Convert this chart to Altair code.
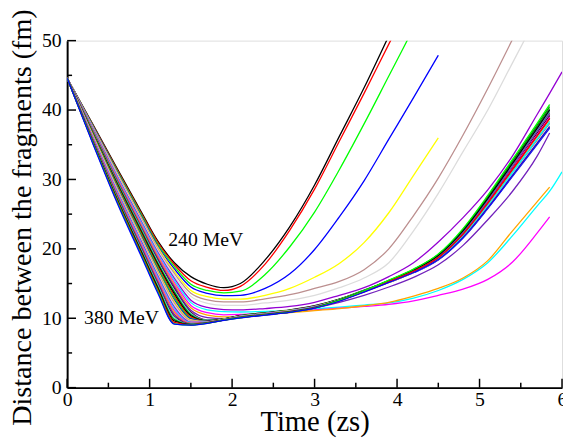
import altair as alt
import pandas as pd

# Time grid (zs) shared by all curves
T = [0, 0.3, 0.6, 0.9, 1.1, 1.3, 1.5, 1.7, 1.9, 2.1, 2.4, 2.7, 3.0, 3.3, 3.6, 3.9,
     4.2, 4.5, 4.8, 5.1, 5.4, 5.7, 5.85, 6.0]
N = None

# Distance between the fragments (fm), one list per curve (240 MeV ... 380 MeV)
C00 = [44.6, 38.2, 31.7, 25.3, 21.1, 18.0, 16.0, 14.9, 14.4, 15.0, 18.4, 23.2, 29.2, 36.2, 43.2, 50.7, N, N, N, N, N, N, N, N]
C01 = [44.6, 38.1, 31.55, 25.1, 20.9, 17.75, 15.4, 14.45, 14.0, 14.6, 17.8, 22.7, 28.6, 35.5, 42.4, 49.5, 56.5, N, N, N, N, N, N, N]
C02 = [44.6, 38.0, 31.4, 24.9, 20.65, 17.45, 14.9, 14.0, 13.65, 13.9, 16.3, 20.3, 25.3, 31.4, 38.0, 44.9, 51.8, N, N, N, N, N, N, N]
C03 = [44.6, 37.95, 31.25, 24.7, 20.4, 17.1, 14.5, 13.6, 13.25, 13.3, 14.3, 16.4, 19.9, 24.6, 29.8, 35.8, 41.8, 47.9, N, N, N, N, N, N]
C04 = [44.6, 37.85, 31.1, 24.5, 20.2, 16.75, 14.0, 13.1, 12.75, 12.75, 13.3, 14.3, 15.9, 17.9, 20.9, 25.2, 30.6, 36.0, N, N, N, N, N, N]
C05 = [44.6, 37.8, 30.95, 24.35, 19.95, 16.45, 13.6, 12.65, 12.35, 12.35, 12.8, 13.4, 14.3, 15.3, 17.0, 20.0, 24.8, 30.2, 36.4, 43.1, 50.2, N, N, N]
C06 = [44.6, 37.7, 30.8, 24.15, 19.75, 16.1, 13.15, 12.15, 11.85, 11.85, 12.2, 12.6, 13.3, 14.4, 15.8, 18.0, 22.6, 28.0, 34.0, 40.0, 46.8, 53.6, N, N]
C07 = [44.6, 37.65, 30.65, 23.95, 19.5, 15.75, 12.6, 11.55, 11.25, 11.2, 11.4, 11.7, 12.3, 13.3, 14.4, 16.0, 18.0, 21.0, 24.5, 28.5, 33.4, 39.4, 42.4, 45.5]
C08 = [44.6, 37.55, 30.5, 23.75, 19.3, 15.45, 12.25, 11.2, 10.95, 10.9, 11.0, 11.1, 11.35, 11.6, 11.9, 12.2, 12.9, 14.0, 15.6, 18.0, 21.9, 26.2, 28.3, 31.1]
C09 = [44.6, 37.45, 30.35, 23.55, 19.05, 15.15, 11.85, 10.8, 10.5, 10.55, 10.75, 10.95, 11.2, 11.45, 11.7, 12.0, 12.5, 13.3, 14.2, 15.6, 18.1, 22.3, 24.6, N]
C10 = [44.6, 37.4, 30.2, 23.35, 18.85, 14.85, 11.5, 10.45, 10.2, 10.3, 10.55, 10.8, 11.1, 11.4, 11.8, 12.3, 13.2, 14.3, 15.8, 18.3, 22.6, 26.8, 28.9, N]
C11 = [44.6, 37.3, 30.05, 23.15, 18.6, 14.55, 11.15, 10.1, 9.95, 10.2, 10.55, 10.95, 11.5, 12.3, 13.3, 14.5, 15.9, 17.7, 20.5, 24.2, 28.3, 33.4, 36.7, N]
C12 = [44.6, 37.2, 29.9, 22.95, 18.4, 14.3, 10.9, 9.75, 9.9, 10.4, 10.8, 11.2, 11.8, 12.75, 14.0, 15.35, 16.85, 18.9, 22.35, 26.9, 31.9, 36.85, 39.4, N]
C13 = [44.6, 37.15, 29.8, 22.8, 18.15, 14.0, 10.7, 9.72, 9.9, 10.38, 10.78, 11.18, 11.78, 12.7, 13.95, 15.25, 16.7, 18.65, 21.95, 26.35, 31.15, 35.95, 38.4, N]
C14 = [44.6, 37.05, 29.65, 22.6, 17.9, 13.75, 10.5, 9.66, 9.9, 10.37, 10.77, 11.17, 11.77, 12.75, 14.05, 15.4, 17.0, 19.1, 22.7, 27.35, 32.45, 37.6, 40.2, N]
C15 = [44.6, 36.95, 29.5, 22.4, 17.7, 13.5, 10.35, 9.6, 9.9, 10.35, 10.75, 11.15, 11.75, 12.7, 13.95, 15.3, 16.85, 18.85, 22.3, 26.8, 31.75, 36.7, 39.2, N]
C16 = [44.6, 36.9, 29.35, 22.2, 17.45, 13.2, 10.15, 9.57, 9.88, 10.33, 10.73, 11.13, 11.73, 12.66, 13.9, 15.2, 16.65, 18.55, 21.85, 26.2, 30.95, 35.7, 38.1, N]
C17 = [44.6, 36.8, 29.2, 22.0, 17.25, 12.95, 10.0, 9.55, 9.86, 10.32, 10.72, 11.12, 11.72, 12.7, 14.0, 15.4, 16.9, 19.0, 22.5, 27.15, 32.2, 37.2, 39.8, N]
C18 = [44.6, 36.7, 29.05, 21.8, 17.0, 12.65, 9.9, 9.55, 9.85, 10.3, 10.7, 11.1, 11.7, 12.62, 13.85, 15.15, 16.55, 18.4, 21.55, 25.8, 30.45, 35.05, 37.4, N]
C19 = [44.6, 36.65, 28.9, 21.6, 16.8, 12.4, 9.75, 9.52, 9.84, 10.28, 10.68, 11.08, 11.68, 12.65, 13.9, 15.25, 16.75, 18.7, 22.1, 26.55, 31.4, 36.25, 38.7, N]
C20 = [44.6, 36.55, 28.75, 21.4, 16.55, 12.15, 9.65, 9.5, 9.83, 10.27, 10.67, 11.07, 11.67, 12.66, 13.96, 15.35, 16.9, 18.9, 22.4, 27.0, 31.95, 36.95, 39.5, N]
C21 = [44.6, 36.5, 28.6, 21.25, 16.35, 11.9, 9.55, 9.48, 9.82, 10.25, 10.65, 11.05, 11.65, 12.6, 13.85, 15.2, 16.6, 18.5, 21.7, 26.05, 30.75, 35.4, 37.8, N]
C22 = [44.6, 36.4, 28.45, 21.05, 16.1, 11.6, 9.45, 9.45, 9.8, 10.23, 10.63, 11.03, 11.63, 12.65, 13.97, 15.4, 16.95, 19.05, 22.6, 27.25, 32.3, 37.4, 40.0, N]
C23 = [44.6, 36.3, 28.3, 20.85, 15.9, 11.35, 9.35, 9.43, 9.8, 10.22, 10.62, 11.02, 11.62, 12.6, 13.86, 15.2, 16.7, 18.6, 21.9, 26.25, 31.0, 35.8, 38.2, N]
C24 = [44.6, 36.25, 28.15, 20.65, 15.65, 11.1, 9.3, 9.42, 9.8, 10.2, 10.6, 11.0, 11.6, 12.6, 13.9, 15.3, 16.8, 18.8, 22.2, 26.7, 31.6, 36.5, 39.0, N]
C25 = [44.6, 36.15, 28.0, 20.45, 15.4, 10.85, 9.26, 9.4, 9.78, 10.18, 10.58, 10.98, 11.58, 12.55, 13.8, 15.15, 16.6, 18.45, 21.65, 25.95, 30.6, 35.25, 37.6, N]
C26 = [44.6, 36.05, 27.85, 20.25, 15.2, 10.55, 9.22, 9.38, 9.78, 10.17, 10.57, 10.97, 11.57, 12.6, 13.93, 15.35, 16.9, 18.95, 22.45, 27.05, 32.05, 37.05, 39.6, N]
C27 = [44.6, 36.0, 27.7, 20.05, 14.95, 10.3, 9.17, 9.37, 9.77, 10.15, 10.55, 10.95, 11.55, 12.56, 13.87, 15.28, 16.77, 18.75, 22.12, 26.6, 31.45, 36.3, 38.8, N]
C28 = [44.6, 35.9, 27.55, 19.85, 14.75, 10.05, 9.14, 9.35, 9.76, 10.13, 10.53, 10.93, 11.53, 12.58, 13.92, 15.39, 16.94, 19.02, 22.56, 27.2, 32.25, 37.3, 39.9, N]
C29 = [44.6, 35.8, 27.4, 19.65, 14.5, 9.8, 9.1, 9.33, 9.75, 10.12, 10.52, 10.92, 11.52, 12.6, 13.96, 15.45, 17.03, 19.18, 22.8, 27.53, 32.68, 37.85, 40.5, N]
C30 = [44.6, 35.75, 27.25, 19.5, 14.3, 9.6, 9.08, 9.32, 9.74, 10.1, 10.5, 10.9, 11.5, 12.56, 13.92, 15.4, 16.95, 19.05, 22.6, 27.25, 32.3, 37.4, 40.0, N]
C31 = [44.6, 35.65, 27.1, 19.3, 14.05, 9.4, 9.05, 9.3, 9.73, 10.08, 10.48, 10.88, 11.48, 12.51, 13.84, 15.28, 16.77, 18.75, 22.12, 26.6, 31.45, 36.3, 38.8, N]
C32 = [44.6, 35.6, 26.95, 19.1, 13.85, 9.2, 9.02, 9.28, 9.72, 10.07, 10.47, 10.87, 11.47, 12.56, 13.95, 15.48, 17.07, 19.25, 22.92, 27.69, 32.9, 38.12, 40.8, N]
C33 = [44.6, 35.5, 26.8, 18.9, 13.6, 9.15, 9.0, 9.27, 9.7, 10.05, 10.45, 10.85, 11.45, 12.45, 13.76, 15.16, 16.59, 18.45, 21.64, 25.93, 30.59, 35.24, 37.6, N]

CURVES = [C00, C01, C02, C03, C04, C05, C06, C07, C08, C09, C10, C11, C12, C13, C14, C15, C16,
          C17, C18, C19, C20, C21, C22, C23, C24, C25, C26, C27, C28, C29, C30, C31, C32, C33]
NAMES = ["curve %02d" % (k + 1) for k in range(len(CURVES))]

# Grace-like default colour cycle
PALETTE = ["#000000", "#ff0000", "#00ff00", "#0000ff", "#ffff00", "#bc8f8f", "#dcdcdc",
           "#9400d3", "#00ffff", "#ff00ff", "#ffa500", "#7221bc", "#670748", "#40e0d0", "#008b00"]
COLORS = [PALETTE[k % len(PALETTE)] for k in range(len(CURVES))]

# Axis ticks / labels
X_LABELS = [0, 1, 2, 3, 4, 5, 6]
X_MINOR = [0.5, 1.5, 2.5, 3.5, 4.5, 5.5]
Y_LABELS = [0, 10, 20, 30, 40, 50]
Y_MINOR = [5, 15, 25, 35, 45]

# Annotations
ANN_TEXT = ["240 MeV", "380 MeV"]
ANN_T = [1.68, 0.66]
ANN_D = [21.3, 10.0]

rows = []
for name, vals in zip(NAMES, CURVES):
    for t, d in zip(T, vals):
        if d is not None:
            rows.append({"curve": name, "t": t, "d": d})
df = pd.DataFrame(rows)

FONT = "Liberation Serif"
W, H = 502, 352

xs = alt.Scale(domain=[0, 6], nice=False, zero=False)
ys = alt.Scale(domain=[0, 50], nice=False, zero=True)

xaxis = alt.Axis(values=X_LABELS, format="d", ticks=False, grid=False, domainColor="black",
                 domainWidth=2, labelFont=FONT, labelFontSize=20, labelColor="black",
                 labelPadding=2, labelFlush=False, labelOverlap=False,
                 title="Time (zs)", titleFont=FONT, titleFontSize=29, titleFontWeight="normal",
                 titleColor="black", titleY=43, titleBaseline="alphabetic")
yaxis = alt.Axis(values=Y_LABELS, format="d", ticks=False, grid=False, domainColor="black",
                 domainWidth=2, labelFont=FONT, labelFontSize=20, labelColor="black",
                 labelPadding=6, labelFlush=False, labelOverlap=False,
                 title="Distance between the fragments (fm)", titleFont=FONT, titleFontSize=28.5,
                 titleFontWeight="normal", titleColor="black", titleX=-37, titleY=179,
                 titleAngle=270, titleAlign="center", titleBaseline="alphabetic")

X = alt.X("t:Q", scale=xs, axis=xaxis)
Y = alt.Y("d:Q", scale=ys, axis=yaxis)

lines = alt.Chart(df).mark_line(clip=True, strokeWidth=1.3, interpolate="monotone").encode(
    x=X, y=Y,
    color=alt.Color("curve:N", scale=alt.Scale(domain=NAMES, range=COLORS), legend=None),
)

xt_major = alt.Chart(pd.DataFrame({"t": X_LABELS})).mark_rule(color="black", strokeWidth=1.5).encode(
    x=X, y=alt.value(H), y2=alt.value(H - 9))
xt_minor = alt.Chart(pd.DataFrame({"t": X_MINOR})).mark_rule(color="black", strokeWidth=1.5).encode(
    x=X, y=alt.value(H), y2=alt.value(H - 5))
yt_major = alt.Chart(pd.DataFrame({"d": Y_LABELS})).mark_rule(color="black", strokeWidth=1.5).encode(
    y=Y, x=alt.value(0), x2=alt.value(9))
yt_minor = alt.Chart(pd.DataFrame({"d": Y_MINOR})).mark_rule(color="black", strokeWidth=1.5).encode(
    y=Y, x=alt.value(0), x2=alt.value(5))

ann = alt.Chart(pd.DataFrame({"t": ANN_T, "d": ANN_D, "label": ANN_TEXT})).mark_text(
    font=FONT, fontSize=20, color="black", align="center", baseline="middle").encode(
    x=X, y=Y, text="label:N")

chart = alt.layer(lines, xt_major, xt_minor, yt_major, yt_minor, ann).properties(
    width=W, height=H,
    padding={"left": 60, "top": 30, "right": 1, "bottom": 50},
    autosize=alt.AutoSizeParams(type="none"),
).configure_view(stroke="black", strokeWidth=2).configure(background="white")

chart.save("out.html", embed_options={"renderer": "svg", "actions": False})
